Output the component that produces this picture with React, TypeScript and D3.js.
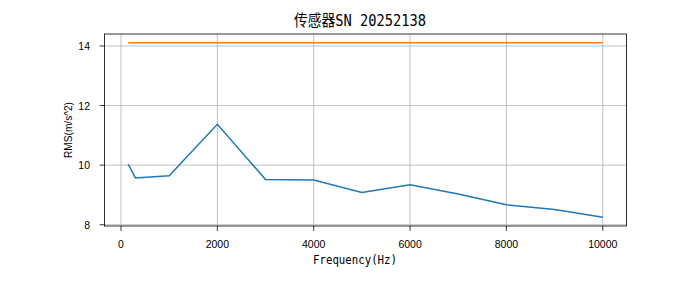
import React from "react";
import * as d3 from "d3";

const freqs = [150, 300, 1000, 2000, 3000, 4000, 5000, 6000, 7000, 8000, 9000, 10000];
const rmsValues = [10.03, 9.57, 9.64, 11.37, 9.52, 9.5, 9.08, 9.34, 9.03, 8.67, 8.51, 8.25];
const limitValues = [14.11, 14.11, 14.11, 14.11, 14.11, 14.11, 14.11, 14.11, 14.11, 14.11, 14.11, 14.11];
const xTicks = [0, 2000, 4000, 6000, 8000, 10000];
const yTicks = [8, 10, 12, 14];
const titleText = "传感器SN 20252138";
const xLabel = "Frequency(Hz)";
const yLabel = "RMS(m/s^2)";

const W = 695;
const H = 283;
const L = 104.5, R = 626.5, T = 34, B = 226;

function padded(lo: number, hi: number) {
  const p = (hi - lo) * 0.05;
  return [lo - p, hi + p];
}

export default function App() {
  const xExt = d3.extent(freqs) as [number, number];
  const allY = rmsValues.concat(limitValues);
  const yExt = d3.extent(allY) as [number, number];
  const x = d3.scaleLinear().domain(padded(xExt[0], xExt[1])).range([L, R]);
  const y = d3.scaleLinear().domain(padded(yExt[0], yExt[1])).range([B, T]);
  const line = d3
    .line<number>()
    .x((_, i) => x(freqs[i]))
    .y((d) => y(d));
  const tickFont = "'Liberation Sans', Arial, sans-serif";
  const monoFont = "'DejaVu Sans Mono', 'Noto Sans CJK SC', monospace";
  return (
    <svg
      width={W}
      height={H}
      style={{ position: "absolute", left: 0, top: 0, background: "#fff" }}
    >
      <rect x={0} y={0} width={W} height={H} fill="#fff" />
      <g>
        {xTicks.map((t) => (
          <line key={"gx" + t} x1={x(t)} x2={x(t)} y1={T} y2={B} stroke="#b0b0b0" strokeWidth={0.8} />
        ))}
        {yTicks.map((t) => (
          <line key={"gy" + t} x1={L} x2={R} y1={y(t)} y2={y(t)} stroke="#b0b0b0" strokeWidth={0.8} />
        ))}
      </g>
      <path d={line(rmsValues) || ""} fill="none" stroke="#1f77b4" strokeWidth={1.5} />
      <path d={line(limitValues) || ""} fill="none" stroke="#ff7f0e" strokeWidth={1.5} />
      <rect x={L} y={T} width={R - L} height={B - T} fill="none" stroke="#000" strokeWidth={0.8} />
      {xTicks.map((t) => (
        <g key={"tx" + t}>
          <line x1={x(t)} x2={x(t)} y1={B} y2={B + 4.9} stroke="#000" strokeWidth={0.8} />
          <text
            x={x(t)}
            y={247.5}
            textAnchor="middle"
            fontFamily={tickFont}
            fontSize={10.5}
            fill="#000"
          >
            {t}
          </text>
        </g>
      ))}
      {yTicks.map((t) => (
        <g key={"ty" + t}>
          <line x1={L - 4.9} x2={L} y1={y(t)} y2={y(t)} stroke="#000" strokeWidth={0.8} />
          <text
            x={90}
            y={y(t) + 4}
            textAnchor="end"
            fontFamily={tickFont}
            fontSize={10.5}
            fill="#000"
          >
            {t}
          </text>
        </g>
      ))}
      <text
        x={360}
        y={26}
        textAnchor="middle"
        fontFamily={monoFont}
        fontSize={15.5}
        textLength={132}
        lengthAdjust="spacingAndGlyphs"
        fill="#000"
      >
        {titleText}
      </text>
      <text
        x={355}
        y={264}
        textAnchor="middle"
        fontFamily={monoFont}
        fontSize={12.5}
        textLength={84}
        lengthAdjust="spacingAndGlyphs"
        fill="#000"
      >
        {xLabel}
      </text>
      <text
        transform={`translate(71.5, ${(T + B) / 2}) rotate(-90)`}
        textAnchor="middle"
        fontFamily={tickFont}
        fontSize={11}
        textLength={56}
        lengthAdjust="spacingAndGlyphs"
        fill="#000"
      >
        {yLabel}
      </text>
    </svg>
  );
}
